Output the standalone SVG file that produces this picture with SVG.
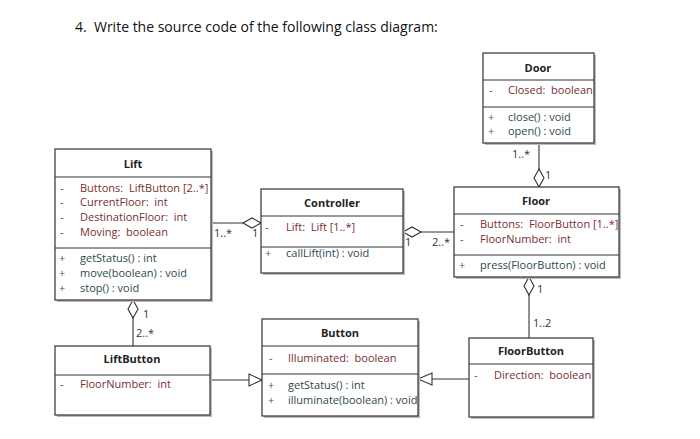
<svg xmlns="http://www.w3.org/2000/svg" width="700" height="439" viewBox="0 0 700 439">
<style>
text{font-family:"Open Sans","Liberation Sans",sans-serif;font-size:11px;white-space:pre}
.t{font-weight:bold;text-anchor:middle;fill:#222}
.a{fill:#7a2e2e}
.m{fill:#2e4a4a}
.v{fill:#555}
.l{fill:#333}
.b{fill:#fff;stroke:#333;stroke-width:1.2}
.s{fill:#bbb}
.ln{stroke:#333;stroke-width:1.1;fill:none}
.d{fill:#fff;stroke:#333;stroke-width:1.1}
</style>
<rect width="700" height="439" fill="#fff"/>
<text x="75" y="32" style="font-size:14px;fill:#111">4.  Write the source code of the following class diagram:</text>
<g id="connectors">
<line class="ln" x1="211" y1="223" x2="261" y2="223"/>
<polygon class="d" points="261,223 252,218 243,223 252,228"/>
<text class="l" x="214" y="237">1..*</text><text class="l" x="252" y="237">1</text>
<line class="ln" x1="403" y1="232" x2="454" y2="232"/>
<polygon class="d" points="403,232 412,227 421,232 412,237"/>
<text class="l" x="405" y="246">1</text><text class="l" x="432" y="246">2..*</text>
<line class="ln" x1="539" y1="143" x2="539" y2="187"/>
<polygon class="d" points="539,187 534,178 539,169 544,178"/>
<text class="l" x="512" y="158">1..*</text><text class="l" x="545" y="179">1</text>
<line class="ln" x1="529" y1="277" x2="529" y2="338"/>
<polygon class="d" points="529,277 524,286 529,295 534,286"/>
<text class="l" x="537" y="293">1</text><text class="l" x="533" y="327">1..2</text>
<line class="ln" x1="133" y1="300" x2="133" y2="346"/>
<polygon class="d" points="133,300 128,309 133,318 138,309"/>
<text class="l" x="143" y="318">1</text><text class="l" x="136" y="337">2..*</text>
<line class="ln" x1="210" y1="380" x2="249" y2="380"/>
<polygon class="d" points="262,380 249,374 249,386"/>
<line class="ln" x1="469" y1="379" x2="432" y2="379"/>
<polygon class="d" points="418,379 432,373 432,385"/>
</g>
<g id="Lift">
<rect class="s" x="57" y="151" width="156" height="151"/>
<rect class="b" x="55" y="149" width="156" height="151"/>
<line class="ln" x1="55" y1="177" x2="211" y2="177"/><line class="ln" x1="55" y1="248" x2="211" y2="248"/>
<text class="t" x="133" y="168">Lift</text>
<text class="v" x="60" y="192">-</text><text class="a" x="80" y="192">Buttons:  LiftButton [2..*]</text>
<text class="v" x="60" y="206">-</text><text class="a" x="80" y="206">CurrentFloor:  int</text>
<text class="v" x="60" y="221">-</text><text class="a" x="80" y="221">DestinationFloor:  int</text>
<text class="v" x="60" y="236">-</text><text class="a" x="80" y="236">Moving:  boolean</text>
<text class="v" x="59" y="262">+</text><text class="m" x="80" y="262">getStatus() : int</text>
<text class="v" x="59" y="277">+</text><text class="m" x="80" y="277">move(boolean) : void</text>
<text class="v" x="59" y="292">+</text><text class="m" x="80" y="292">stop() : void</text>
</g>
<g id="Controller">
<rect class="s" x="263" y="191" width="142" height="84"/>
<rect class="b" x="261" y="189" width="142" height="84"/>
<line class="ln" x1="261" y1="216" x2="403" y2="216"/><line class="ln" x1="261" y1="247" x2="403" y2="247"/>
<text class="t" x="332" y="207">Controller</text>
<text class="v" x="265" y="231">-</text><text class="a" x="286" y="231">Lift:  Lift [1..*]</text>
<text class="v" x="265" y="257">+</text><text class="m" x="286" y="257">callLift(int) : void</text>
</g>
<g id="Door">
<rect class="s" x="485" y="55" width="111" height="90"/>
<rect class="b" x="483" y="53" width="111" height="90"/>
<line class="ln" x1="483" y1="80" x2="594" y2="80"/><line class="ln" x1="483" y1="107" x2="594" y2="107"/>
<text class="t" x="538" y="72">Door</text>
<text class="v" x="489" y="94">-</text><text class="a" x="508" y="94">Closed:  boolean</text>
<text class="v" x="488" y="121">+</text><text class="m" x="508" y="121">close() : void</text>
<text class="v" x="488" y="135">+</text><text class="m" x="508" y="135">open() : void</text>
</g>
<g id="Floor">
<rect class="s" x="456" y="189" width="165" height="90"/>
<rect class="b" x="454" y="187" width="165" height="90"/>
<line class="ln" x1="454" y1="214" x2="619" y2="214"/><line class="ln" x1="454" y1="255" x2="619" y2="255"/>
<text class="t" x="536" y="205">Floor</text>
<text class="v" x="460" y="228">-</text><text class="a" x="480" y="228">Buttons:  FloorButton [1..*]</text>
<text class="v" x="460" y="243">-</text><text class="a" x="480" y="243">FloorNumber:  int</text>
<text class="v" x="459" y="269">+</text><text class="m" x="480" y="269">press(FloorButton) : void</text>
</g>
<g id="LiftButton">
<rect class="s" x="57" y="348" width="155" height="69"/>
<rect class="b" x="55" y="346" width="155" height="69"/>
<line class="ln" x1="55" y1="375" x2="210" y2="375"/>
<text class="t" x="132" y="363">LiftButton</text>
<text class="v" x="60" y="388">-</text><text class="a" x="80" y="388">FloorNumber:  int</text>
</g>
<g id="Button">
<rect class="s" x="264" y="321" width="156" height="97"/>
<rect class="b" x="262" y="319" width="156" height="97"/>
<line class="ln" x1="262" y1="346" x2="418" y2="346"/><line class="ln" x1="262" y1="374" x2="418" y2="374"/>
<text class="t" x="340" y="337">Button</text>
<text class="v" x="269" y="362">-</text><text class="a" x="288" y="362">Illuminated:  boolean</text>
<text class="v" x="268" y="389">+</text><text class="m" x="288" y="389">getStatus() : int</text>
<text class="v" x="268" y="404">+</text><text class="m" x="288" y="404">illuminate(boolean) : void</text>
</g>
<g id="FloorButton">
<rect class="s" x="471" y="340" width="124" height="79"/>
<rect class="b" x="469" y="338" width="124" height="79"/>
<line class="ln" x1="469" y1="364" x2="593" y2="364"/>
<text class="t" x="531" y="355">FloorButton</text>
<text class="v" x="474" y="379">-</text><text class="a" x="494" y="379">Direction:  boolean</text>
</g>
</svg>
